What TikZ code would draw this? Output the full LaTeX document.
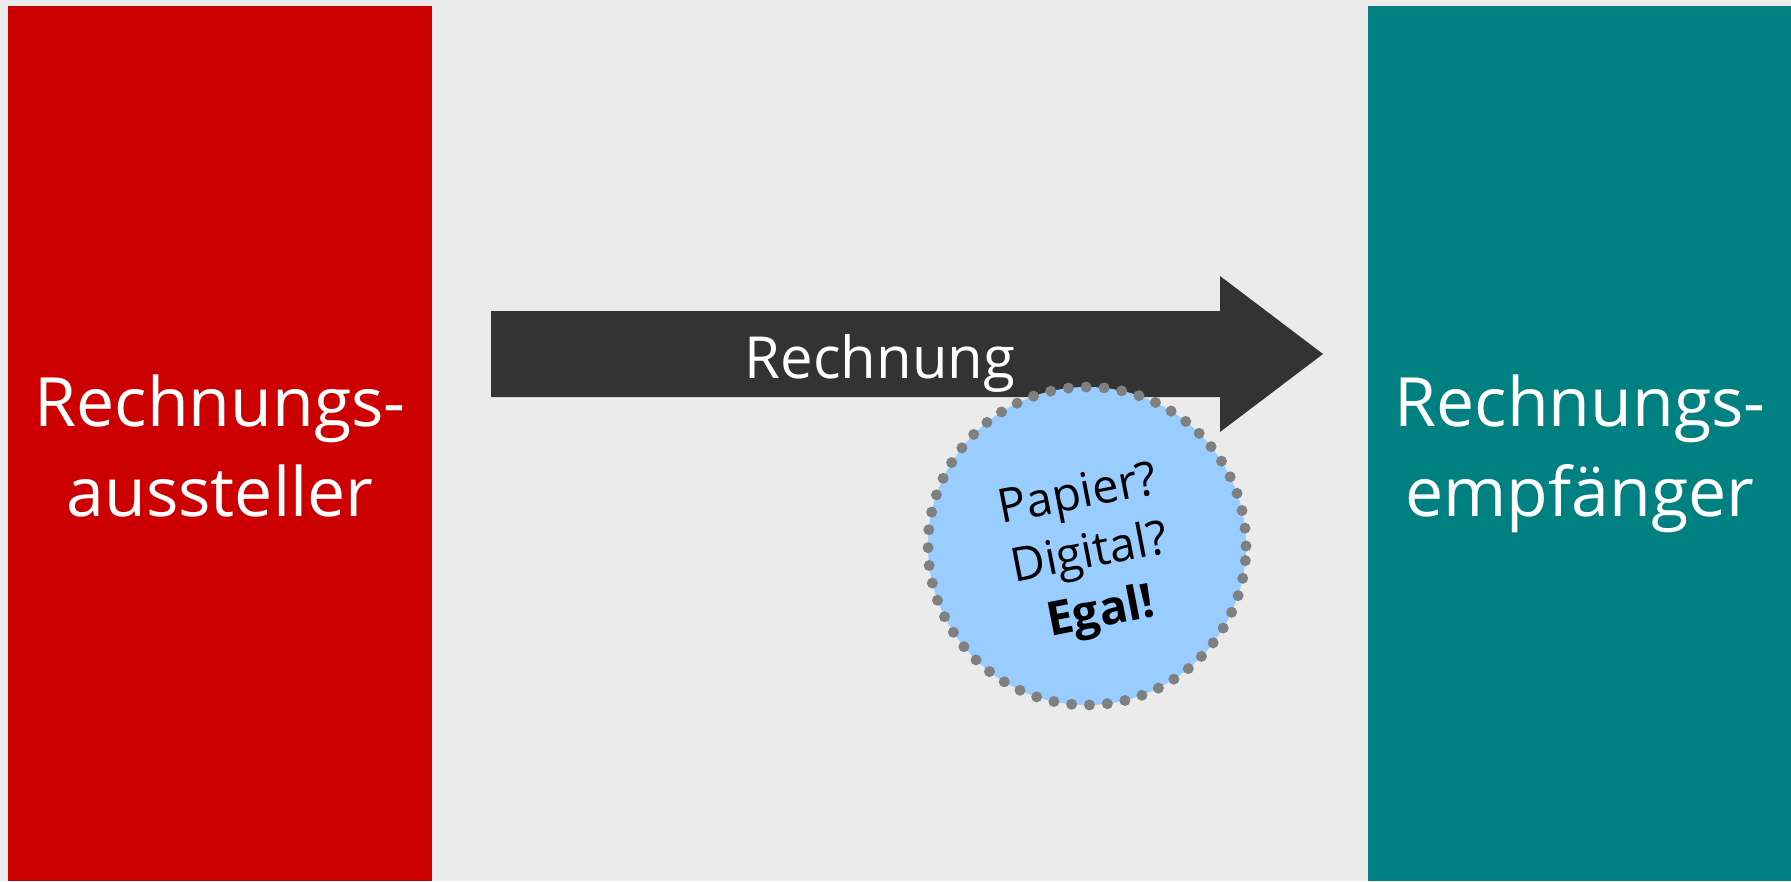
\documentclass[tikz,border=0pt]{standalone}
\usepackage{fontspec}
\setmainfont{Open Sans}
\definecolor{bgc}{HTML}{EBEBEB}
\definecolor{redc}{HTML}{CC0000}
\definecolor{tealc}{HTML}{008080}
\definecolor{arrowc}{HTML}{333333}
\definecolor{bubblec}{HTML}{99CCFF}
\definecolor{dotc}{HTML}{808080}
\begin{document}
\begin{tikzpicture}[x=1pt,y=-1pt,
  box/.style={rectangle, inner sep=0pt, outer sep=0pt, anchor=north west},
  boxtext/.style={text=white, anchor=base, inner sep=0pt, font=\fontsize{68}{68}\selectfont},
  arrowtext/.style={text=white, anchor=base, inner sep=0pt, font=\fontsize{58}{58}\selectfont},
  bubble/.style={circle, fill=bubblec, draw=dotc, line width=11pt, line cap=round,
    dash pattern=on 0pt off 17.9pt, minimum size=318pt, inner sep=0pt},
  bubbletext/.style={align=center, rotate=11, inner sep=0pt,
    font=\fontsize{47}{60}\selectfont}
]
\useasboundingbox (0,0) rectangle (1791,881);
\fill[bgc] (0,0) rectangle (1791,881);
\node[box, fill=redc, minimum width=424pt, minimum height=875pt] (sender) at (8,6) {};
\node[box, fill=tealc, minimum width=423pt, minimum height=875pt] (receiver) at (1368,6) {};
\node[boxtext] (s1) at (220,426) {Rechnungs-};
\node[boxtext] (s2) at (220,516) {aussteller};
\node[boxtext] (r1) at (1580,426) {Rechnungs-};
\node[boxtext] (r2) at (1580,516) {empfänger};
\fill[arrowc] (491,311) -- (1220,311) -- (1220,276) -- (1323,354) -- (1220,432) -- (1220,397) -- (491,397) -- cycle;
\node[arrowtext] (lbl) at (880,378) {Rechnung};
\node[bubble] (egal) at (1087,546) {};
\node[bubbletext] (q) at (1090,556) {Papier?\\Digital?\\\textbf{Egal!}};
\end{tikzpicture}
\end{document}
